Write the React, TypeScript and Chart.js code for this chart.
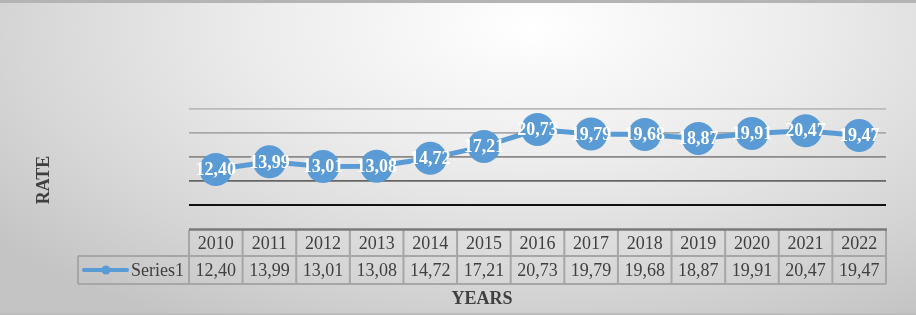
import React, { useEffect, useRef } from "react";
import { Chart, registerables } from "chart.js";
Chart.register(...registerables);

const years = ["2010", "2011", "2012", "2013", "2014", "2015", "2016", "2017", "2018", "2019", "2020", "2021", "2022"];
const rates = [12.4, 13.99, 13.01, 13.08, 14.72, 17.21, 20.73, 19.79, 19.68, 18.87, 19.91, 20.47, 19.47];
const seriesName = "Series1";
const yMin = 5;
const yMax = 25;
const yStep = 5;
const xTitle = "YEARS";
const yTitle = "RATE";

const fmt = (v: number) => v.toFixed(2).replace(".", ",");
const BLUE = "#5B9BD5";
const TEXT = "#404040";
const SERIF = "'Liberation Serif', 'Times New Roman', serif";

const gridColor = (v: number) => {
  if (v <= 5) return "#111111";
  if (v <= 10) return "#666666";
  if (v <= 15) return "#8a8a8a";
  if (v <= 20) return "#a8a8a8";
  return "#bababa";
};

const overlayPlugin = {
  id: "overlay",
  afterDatasetsDraw(chart: any) {
    const ctx = chart.ctx;
    const meta = chart.getDatasetMeta(0);
    ctx.save();
    ctx.font = `bold 18px ${SERIF}`;
    ctx.fillStyle = "#ffffff";
    ctx.textAlign = "center";
    ctx.textBaseline = "middle";
    meta.data.forEach((pt: any, i: number) => {
      ctx.fillText(fmt(rates[i]), pt.x, pt.y + 1);
    });
    ctx.restore();
  },
  afterDraw(chart: any) {
    const ctx = chart.ctx;
    const area = chart.chartArea;
    const xs = chart.scales.x;
    const n = years.length;
    const colW = (area.right - area.left) / n;
    const top = 230;
    const mid = 256;
    const bot = 284;
    const legL = 78;
    ctx.save();
    // cell borders
    ctx.strokeStyle = "#a6a6a6";
    ctx.lineWidth = 2;
    ctx.beginPath();
    ctx.moveTo(area.left, top);
    ctx.lineTo(area.left, bot);
    for (let i = 0; i <= n; i++) {
      const x = area.left + i * colW;
      ctx.moveTo(x, top);
      ctx.lineTo(x, bot);
    }
    ctx.moveTo(legL, mid);
    ctx.lineTo(area.right, mid);
    ctx.moveTo(legL, bot);
    ctx.lineTo(area.right, bot);
    ctx.moveTo(legL, mid);
    ctx.lineTo(legL, bot);
    ctx.stroke();
    // top axis line
    ctx.strokeStyle = "#7a7a7a";
    ctx.lineWidth = 2.5;
    ctx.beginPath();
    ctx.moveTo(area.left, top - 0.5);
    ctx.lineTo(area.right + 1, top - 0.5);
    ctx.stroke();
    // texts
    ctx.fillStyle = TEXT;
    ctx.font = `18px ${SERIF}`;
    ctx.textAlign = "center";
    ctx.textBaseline = "middle";
    years.forEach((y, i) => {
      const cx = xs.getPixelForValue(i);
      ctx.fillText(y, cx, (top + mid) / 2 + 1);
      ctx.fillText(fmt(rates[i]), cx, (mid + bot) / 2 + 1);
    });
    // legend key
    ctx.strokeStyle = BLUE;
    ctx.lineWidth = 4;
    ctx.lineCap = "round";
    ctx.beginPath();
    ctx.moveTo(84, (mid + bot) / 2);
    ctx.lineTo(127, (mid + bot) / 2);
    ctx.stroke();
    ctx.fillStyle = BLUE;
    ctx.beginPath();
    ctx.arc(106, (mid + bot) / 2, 4.5, 0, Math.PI * 2);
    ctx.fill();
    ctx.fillStyle = TEXT;
    ctx.textAlign = "right";
    ctx.fillText(seriesName, area.left - 5, (mid + bot) / 2 + 1);
    // axis titles
    ctx.font = `bold 18px ${SERIF}`;
    ctx.textAlign = "center";
    ctx.fillText(xTitle, (legL + area.right) / 2, 299);
    ctx.translate(43, 180);
    ctx.rotate(-Math.PI / 2);
    ctx.fillText(yTitle, 0, 1);
    ctx.restore();
  },
};

export default function App() {
  const ref = useRef<HTMLCanvasElement | null>(null);
  useEffect(() => {
    if (!ref.current) return;
    const chart = new Chart(ref.current, {
      type: "line",
      data: {
        labels: years,
        datasets: [
          {
            label: seriesName,
            data: rates,
            borderColor: BLUE,
            backgroundColor: BLUE,
            borderWidth: 5,
            pointRadius: 16.5,
            pointHoverRadius: 16.5,
            pointBackgroundColor: BLUE,
            pointBorderColor: BLUE,
            pointBorderWidth: 0,
            tension: 0,
          },
        ],
      },
      options: {
        animation: false,
        responsive: false,
        maintainAspectRatio: false,
        events: [],
        layout: { padding: { left: 189, right: 30, top: 109, bottom: 110 } },
        plugins: { legend: { display: false }, tooltip: { enabled: false } },
        scales: {
          x: { display: false, offset: true },
          y: {
            min: yMin,
            max: yMax,
            ticks: { display: false, stepSize: yStep },
            border: { display: false },
            grid: {
              drawTicks: false,
              color: (c: any) => gridColor(c.tick.value),
              lineWidth: (c: any) => (c.tick.value <= yMin ? 2 : 1.8),
            },
          },
        },
      },
      plugins: [overlayPlugin],
    });
    return () => chart.destroy();
  }, []);
  return (
    <div
      style={{
        position: "fixed",
        left: 0,
        top: 0,
        width: 916,
        height: 315,
        boxSizing: "border-box",
        borderTop: "3px solid #b4b4b4",
        borderBottom: "2px solid #bdbdbd",
        background:
          "radial-gradient(ellipse 75% 110% at 58% 8%, #ffffff 0%, #ececec 40%, #d6d6d6 75%, #c4c4c4 100%)",
      }}
    >
      <canvas ref={ref} width={916} height={315} style={{ position: "absolute", left: 0, top: -3, width: 916, height: 315 }} />
    </div>
  );
}
